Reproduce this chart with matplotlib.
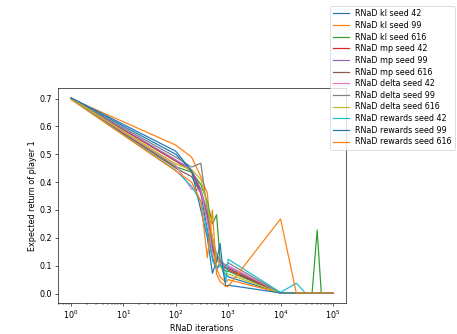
import matplotlib
matplotlib.use("Agg")
from matplotlib import pyplot as plt

iters = [1, 100, 200, 300, 400, 500, 600, 700, 800, 900, 1000,
         10000, 20000, 30000, 40000, 50000, 60000, 70000, 80000, 90000, 100000]

tail = [0.002] * 10

kl_42 = [0.702, 0.500, 0.440, 0.360, 0.230, 0.130, 0.090, 0.110, 0.080, 0.070, 0.060] + tail
kl_99 = [0.700, 0.533, 0.490, 0.420, 0.360, 0.160, 0.090, 0.060, 0.050, 0.040, 0.050] + tail
kl_616 = [0.701, 0.455, 0.436, 0.392, 0.330, 0.250, 0.283, 0.120, 0.090, 0.080, 0.080,
          0.002, 0.001, 0.001, 0.001, 0.228, 0.001, 0.001, 0.001, 0.001, 0.002]
mp_42 = [0.700, 0.475, 0.440, 0.370, 0.280, 0.170, 0.120, 0.110, 0.100, 0.090, 0.085] + tail
mp_99 = [0.701, 0.480, 0.445, 0.375, 0.290, 0.180, 0.130, 0.115, 0.105, 0.095, 0.095] + tail
mp_616 = [0.699, 0.450, 0.420, 0.360, 0.270, 0.160, 0.120, 0.110, 0.100, 0.090, 0.090] + tail
delta_42 = [0.700, 0.460, 0.375, 0.370, 0.260, 0.150, 0.120, 0.110, 0.100, 0.100, 0.100] + tail
delta_99 = [0.700, 0.490, 0.454, 0.468, 0.300, 0.200, 0.140, 0.120, 0.110, 0.100, 0.110] + tail
delta_616 = [0.700, 0.465, 0.445, 0.410, 0.320, 0.200, 0.130, 0.100, 0.080, 0.070, 0.070] + tail
rewards_42 = [0.698, 0.442, 0.385, 0.330, 0.220, 0.120, 0.087, 0.100, 0.100, 0.043, 0.123,
              0.004, 0.037, 0.001, 0.001, 0.001, 0.001, 0.001, 0.001, 0.001, 0.002]
rewards_99 = [0.703, 0.511, 0.440, 0.300, 0.200, 0.073, 0.115, 0.180, 0.080, 0.025, 0.030] + tail
rewards_616 = [0.697, 0.440, 0.400, 0.330, 0.128, 0.300, 0.070, 0.043, 0.035, 0.025, 0.025,
               0.268, 0.002, 0.002, 0.002, 0.002, 0.002, 0.002, 0.002, 0.002, 0.003]

runs = [
    ("RNaD kl seed 42", kl_42),
    ("RNaD kl seed 99", kl_99),
    ("RNaD kl seed 616", kl_616),
    ("RNaD mp seed 42", mp_42),
    ("RNaD mp seed 99", mp_99),
    ("RNaD mp seed 616", mp_616),
    ("RNaD delta seed 42", delta_42),
    ("RNaD delta seed 99", delta_99),
    ("RNaD delta seed 616", delta_616),
    ("RNaD rewards seed 42", rewards_42),
    ("RNaD rewards seed 99", rewards_99),
    ("RNaD rewards seed 616", rewards_616),
]

fig = plt.figure(figsize=(457 / 58, 334 / 58), dpi=58)
ax = fig.add_axes([58 / 457, 31 / 334, 288 / 457, 215 / 334])

for label, vals in runs:
    ax.plot(iters, vals, label=label)

ax.set_xscale("log")
ax.set_xlabel("RNaD iterations")
ax.set_ylabel("Expected return of player 1")
ax.legend(loc="upper right", bbox_to_anchor=(455 / 457, 1 - 6 / 334),
          bbox_transform=fig.transFigure, borderaxespad=0, labelspacing=0.33)

fig.savefig("out.png", dpi=58)
